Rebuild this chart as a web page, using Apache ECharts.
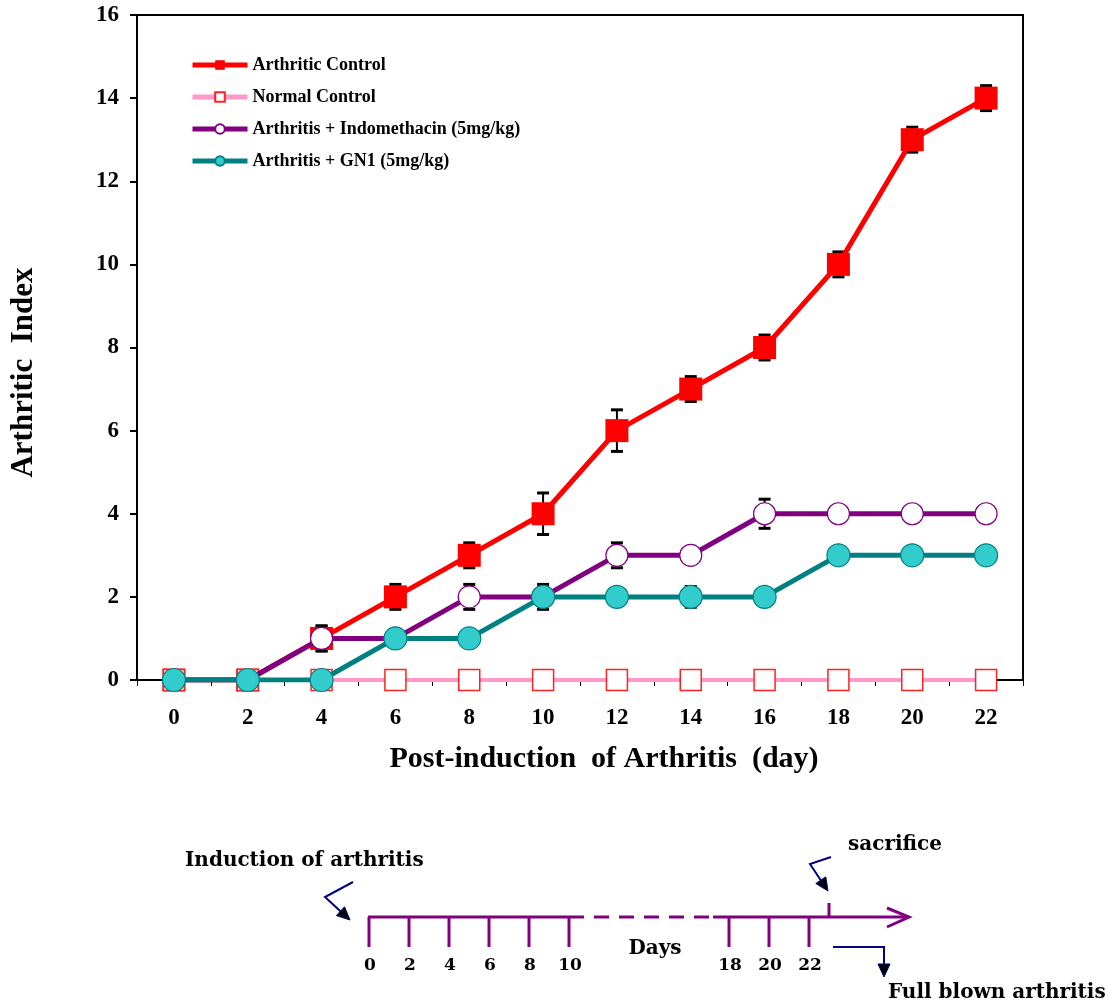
<!DOCTYPE html>
<html>
<head>
<meta charset="utf-8">
<script src="https://cdn.jsdelivr.net/npm/echarts@6/dist/echarts.min.js"></script>
<style>
  html, body { margin: 0; padding: 0; background: #fff; }
  #chart { width: 1107px; height: 1003px; }
</style>
</head>
<body>
<div id="chart"></div>
<script>
// Days after induction (x categories)
const days = ['0', '2', '4', '6', '8', '10', '12', '14', '16', '18', '20', '22'];

// Arthritic index per group, with error (± SEM)
const arthriticControl    = [0, 0, 1, 2, 3, 4, 6, 7, 8, 10, 13, 14];
const arthriticControlErr = [0, 0, 0.3, 0.3, 0.3, 0.5, 0.5, 0.3, 0.3, 0.3, 0.3, 0.3];
const normalControl       = [0, 0, 0, 0, 0, 0, 0, 0, 0, 0, 0, 0];
const indomethacin        = [0, 0, 1, 1, 2, 2, 3, 3, 4, 4, 4, 4];
const indomethacinErr     = [0, 0, 0.3, 0, 0.3, 0, 0.3, 0, 0.35, 0, 0, 0];
const gn1                 = [0, 0, 0, 1, 1, 2, 2, 2, 2, 3, 3, 3];
const gn1Err              = [0, 0, 0, 0, 0, 0.3, 0, 0.25, 0, 0, 0, 0];

const seriesNames = [
  'Arthritic Control',
  'Normal Control',
  'Arthritis + Indomethacin (5mg/kg)',
  'Arthritis + GN1 (5mg/kg)'
];

// Study timeline (days marked on the schedule bar)
const timelineDays = [0, 2, 4, 6, 8, 10, 18, 20, 22];
const timelineBreak = [10, 17.2];   // dashed stretch of the schedule bar
const sacrificeDay = 23;
const timelineEnd = 27;

const SERIF = '"Liberation Serif", "Times New Roman", serif';
const WIDE_SERIF = '"DejaVu Serif", serif';
const PURPLE = '#800080';
const NAVY = '#000080';

function errorData(values, errs) {
  const out = [];
  values.forEach((v, i) => { if (errs[i] > 0) out.push([i, v, errs[i]]); });
  return out;
}

function errorBarItem(params, api) {
  const x = api.value(0), v = api.value(1), e = api.value(2);
  const top = api.coord([x, v + e]);
  const bot = api.coord([x, v - e]);
  const hw = 6;
  return {
    type: 'group',
    children: [
      { type: 'line', shape: { x1: top[0], y1: top[1], x2: bot[0], y2: bot[1] }, style: { stroke: '#000', lineWidth: 2 } },
      { type: 'line', shape: { x1: top[0] - hw, y1: top[1], x2: top[0] + hw, y2: top[1] }, style: { stroke: '#000', lineWidth: 3 } },
      { type: 'line', shape: { x1: bot[0] - hw, y1: bot[1], x2: bot[0] + hw, y2: bot[1] }, style: { stroke: '#000', lineWidth: 3 } }
    ]
  };
}

function timelineTickItem(params, api) {
  const d = api.value(0);
  const p = api.coord([d, 0]);
  return {
    type: 'group',
    children: [
      { type: 'line', shape: { x1: p[0], y1: p[1], x2: p[0], y2: p[1] + 30 },
        style: { stroke: PURPLE, lineWidth: 3 } },
      { type: 'text', style: { text: String(d), x: p[0] + 1, y: p[1] + 49, align: 'center', verticalAlign: 'middle',
        font: 'bold 17px ' + WIDE_SERIF, fill: '#000' } }
    ]
  };
}

function timelineBarItem(params, api) {
  const a = api.coord([0, 0]);
  const b1 = api.coord([timelineBreak[0], 0]);
  const b2 = api.coord([timelineBreak[1], 0]);
  const s = api.coord([sacrificeDay, 0]);
  const e = api.coord([timelineEnd, 0]);
  const st = { stroke: PURPLE, lineWidth: 3 };
  return {
    type: 'group',
    children: [
      { type: 'line', shape: { x1: a[0] - 1, y1: a[1], x2: b1[0], y2: b1[1] }, style: st },
      { type: 'line', shape: { x1: b1[0], y1: b1[1], x2: b2[0], y2: b2[1] },
        style: { stroke: PURPLE, lineWidth: 3, lineDash: [15, 10] } },
      { type: 'line', shape: { x1: b2[0], y1: b2[1], x2: e[0], y2: e[1] }, style: st },
      { type: 'polyline', shape: { points: [[e[0] - 22, e[1] - 9], [e[0], e[1]], [e[0] - 22, e[1] + 10]] }, style: { stroke: PURPLE, lineWidth: 3, fill: 'none' } },
      { type: 'line', shape: { x1: s[0], y1: s[1], x2: s[0], y2: s[1] - 14 }, style: st }
    ]
  };
}

// Callout arrow: polyline through points, filled head at the last point
function callout(points) {
  const n = points.length;
  const tip = points[n - 1], prev = points[n - 2];
  const dx = tip[0] - prev[0], dy = tip[1] - prev[1];
  const len = Math.hypot(dx, dy);
  const ux = dx / len, uy = dy / len;
  const L = 13, W = 6;
  const bx = tip[0] - ux * L, by = tip[1] - uy * L;
  return [
    { type: 'polyline', shape: { points: points.slice(0, n - 1).concat([[bx, by]]) },
      style: { stroke: NAVY, lineWidth: 2, fill: 'none' } },
    { type: 'polygon', shape: { points: [tip, [bx - uy * W, by + ux * W], [bx + uy * W, by - ux * W]] },
      style: { fill: '#000', stroke: NAVY, lineWidth: 1 } }
  ];
}

function annotationText(text, x, y, align) {
  return { type: 'text', x: x, y: y,
    style: { text: text, align: align, verticalAlign: 'middle', font: 'bold 20px ' + WIDE_SERIF, fill: '#000' } };
}

const chart = echarts.init(document.getElementById('chart'), null, { renderer: 'canvas' });

const lineBase = { type: 'line', xAxisIndex: 0, yAxisIndex: 0, showSymbol: true, showAllSymbol: true,
  emphasis: { disabled: true }, animation: false };

chart.setOption({
  animation: false,
  backgroundColor: '#fff',
  textStyle: { fontFamily: SERIF },
  grid: [
    { left: 137, right: 84, top: 15, height: 665, show: true, borderColor: '#000', borderWidth: 2, backgroundColor: 'transparent' },
    { left: 369, width: 540, top: 880, height: 37, show: false }
  ],
  legend: {
    data: seriesNames,
    orient: 'vertical',
    left: 190,
    top: 56,
    padding: 0,
    itemWidth: 55,
    itemHeight: 12,
    itemGap: 14,
    lineStyle: { width: 5 },
    textStyle: { fontFamily: SERIF, fontWeight: 'bold', fontSize: 18, color: '#000' }
  },
  xAxis: [
    {
      type: 'category', gridIndex: 0, data: days, boundaryGap: true,
      name: 'Post-induction  of Arthritis  (day)', nameLocation: 'middle', nameGap: 64,
      nameTextStyle: { fontFamily: SERIF, fontWeight: 'bold', fontSize: 30, color: '#000', padding: [0, 0, 0, 48] },
      axisLine: { lineStyle: { color: '#000', width: 2 } },
      axisTick: { show: true, alignWithLabel: false, length: 6, lineStyle: { color: '#000', width: 1 } },
      axisLabel: { margin: 27, fontFamily: SERIF, fontWeight: 'bold', fontSize: 23, color: '#000' },
      splitLine: { show: false }
    },
    { type: 'value', gridIndex: 1, min: 0, max: timelineEnd, show: false }
  ],
  yAxis: [
    {
      type: 'value', gridIndex: 0, min: 0, max: 16, interval: 2,
      name: 'Arthritic  Index', nameLocation: 'middle', nameGap: 98, nameRotate: 90,
      nameTextStyle: { fontFamily: SERIF, fontWeight: 'bold', fontSize: 31, color: '#000', padding: [0, 50, 0, 0] },
      axisLine: { show: true, lineStyle: { color: '#000', width: 2 } },
      axisTick: { show: true, length: 7, lineStyle: { color: '#000', width: 2 } },
      axisLabel: { margin: 18, fontFamily: SERIF, fontWeight: 'bold', fontSize: 23, color: '#000' },
      splitLine: { show: false }
    },
    { type: 'value', gridIndex: 1, min: 0, max: 1, show: false }
  ],
  series: [
    { type: 'custom', name: 'err-ac', xAxisIndex: 0, yAxisIndex: 0, renderItem: errorBarItem,
      data: errorData(arthriticControl, arthriticControlErr), z: 1, silent: true },
    { type: 'custom', name: 'err-indo', xAxisIndex: 0, yAxisIndex: 0, renderItem: errorBarItem,
      data: errorData(indomethacin, indomethacinErr), z: 1, silent: true },
    { type: 'custom', name: 'err-gn1', xAxisIndex: 0, yAxisIndex: 0, renderItem: errorBarItem,
      data: errorData(gn1, gn1Err), z: 1, silent: true },
    Object.assign({}, lineBase, {
      name: seriesNames[0], data: arthriticControl, symbol: 'rect', symbolSize: 23, z: 2,
      lineStyle: { color: '#FF0000', width: 5 },
      itemStyle: { color: '#FF0000', borderWidth: 0 }
    }),
    Object.assign({}, lineBase, {
      name: seriesNames[1], data: normalControl, symbol: 'rect', symbolSize: 21, z: 3,
      lineStyle: { color: '#FF99CC', width: 4 },
      itemStyle: { color: '#FFFFFF', borderColor: '#FF2222', borderWidth: 1.5 }
    }),
    Object.assign({}, lineBase, {
      name: seriesNames[2], data: indomethacin, symbol: 'circle', symbolSize: 22, z: 4,
      lineStyle: { color: '#800080', width: 5 },
      itemStyle: { color: '#FFFFFF', borderColor: '#800080', borderWidth: 1.2 }
    }),
    Object.assign({}, lineBase, {
      name: seriesNames[3], data: gn1, symbol: 'circle', symbolSize: 23, z: 5,
      lineStyle: { color: '#008080', width: 5 },
      itemStyle: { color: '#33CCCC', borderColor: '#008080', borderWidth: 1.2 }
    }),
    { type: 'custom', name: 'timeline-bar', xAxisIndex: 1, yAxisIndex: 1, renderItem: timelineBarItem,
      data: [[0, 0]], silent: true },
    { type: 'custom', name: 'timeline-ticks', xAxisIndex: 1, yAxisIndex: 1, renderItem: timelineTickItem,
      data: timelineDays.map(d => [d, 0]), silent: true }
  ],
  graphic: [].concat(
    callout([[353, 882], [325, 897], [350, 920]]),
    callout([[831, 857], [810, 864], [828, 891]]),
    callout([[833, 947], [884, 947], [884, 977]]),
    [
      annotationText('Induction of arthritis', 185, 861, 'left'),
      annotationText('sacrifice', 848, 845, 'left'),
      annotationText('Days', 655, 949, 'center'),
      annotationText('Full blown arthritis', 888, 993, 'left')
    ]
  )
});
</script>
</body>
</html>
